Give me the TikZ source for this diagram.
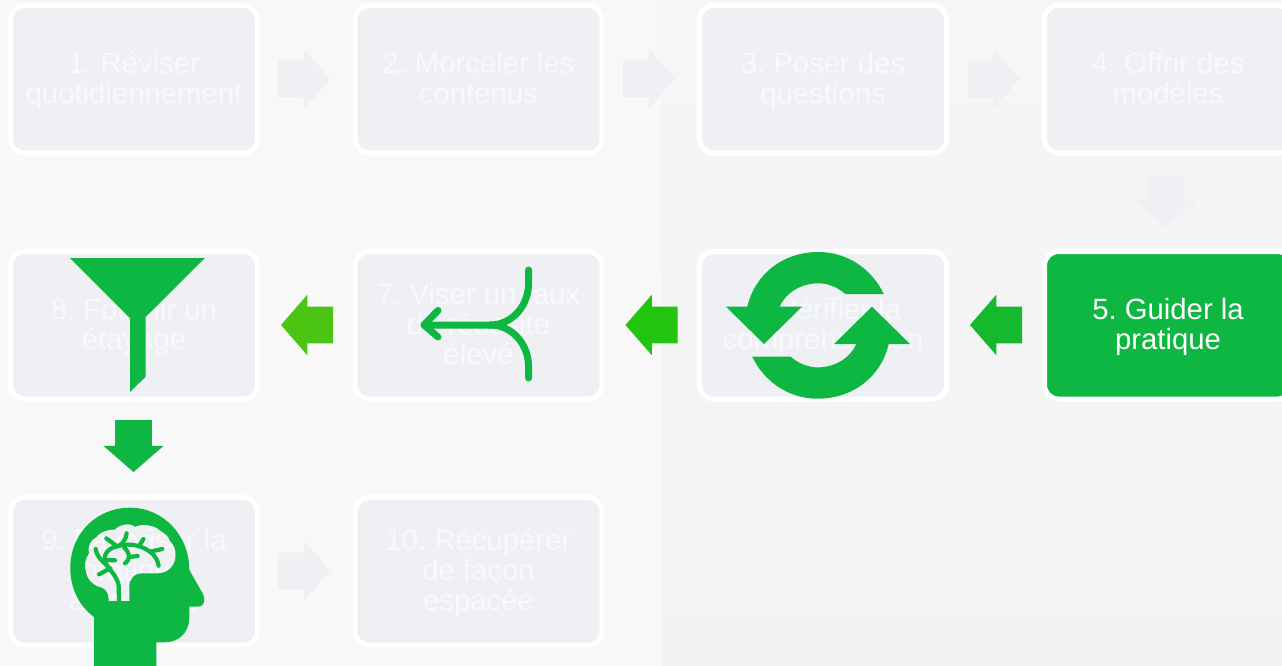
\documentclass[tikz,border=0pt]{standalone}
\usepackage{fontspec}
\setmainfont{Liberation Sans}
\usetikzlibrary{shapes.arrows}
\definecolor{boxfill}{HTML}{EEF0F4}
\definecolor{gr}{HTML}{0DB741}
\definecolor{arA}{HTML}{14B92E}
\definecolor{arB}{HTML}{22C40F}
\definecolor{arC}{HTML}{4CC414}
\definecolor{paletext}{HTML}{F8F9FB}
\definecolor{bgl}{HTML}{F8F8F8}
\newcommand{\tp}{\rule{0pt}{27pt}}
\newcommand{\bt}{\rule[-8.5pt]{0pt}{8.5pt}}
\tikzset{
  stepbox/.style={draw=white,line width=5pt,fill=boxfill,rounded corners=14pt,minimum width=247pt,minimum height=147.5pt,
    inner sep=0pt,outer sep=0pt,text=paletext,align=center,font=\fontsize{29.3}{30}\selectfont\frenchspacing,anchor=north west},
  blockarrow/.style={single arrow,draw=none,minimum height=52pt,single arrow head extend=11.8pt,text height=36.4pt,text depth=0pt,text width=0pt,
    single arrow tip angle=98,single arrow head indent=0pt,inner sep=0pt,outer sep=0pt,anchor=tail},
  icon/.style={fill=gr,draw=none},
  twig/.style={draw=gr,line width=4.2pt,line cap=round,line join=round}
}
\begin{document}
\begin{tikzpicture}[x=1pt,y=-1pt]
\useasboundingbox (0,0) rectangle (1282,666);
\fill[bgl] (0,0) rectangle (662,666);
\fill[top color=white!96.5!black,bottom color=white!95!black] (662,0) rectangle (1282,666);
% boxes
\node[stepbox] (b1) at (10.5,5.5) {\tp 1. Réviser\\quotidiennement\bt};
\node[stepbox] (b2) at (355,5.5) {\tp 2. Morceler les\\contenus\bt};
\node[stepbox] (b3) at (699.5,5.5) {\tp 3. Poser des\\questions\bt};
\node[stepbox] (b4) at (1044.5,5.5) {\tp 4. Offrir des\\modèles\bt};
\node[stepbox,fill=gr,text=white] (b5) at (1044.5,251.5) {\tp 5. Guider la\\pratique\bt};
\node[stepbox] (b6) at (699.5,251.5) {\tp 6. Vérifier la\\compréhension\bt};
\node[stepbox] (b7) at (355,251.5) {\tp 7. Viser un taux\\de réussite\\élevé\bt};
\node[stepbox] (b8) at (10.5,251.5) {\tp 8. Fournir un\\étayage\bt};
\node[stepbox] (b9) at (10.5,497.5) {\tp 9. Favoriser la\\pratique\\autonome\bt};
\node[stepbox] (b10) at (355,497.5) {\tp 10. Récupérer\\de façon\\espacée\bt};
% block arrows
\node[blockarrow,fill=boxfill] (a12) at (278,79) {};
\node[blockarrow,fill=boxfill] (a23) at (623,79) {};
\node[blockarrow,fill=boxfill] (a34) at (967.5,79) {};
\node[blockarrow,fill=boxfill,rotate=-90] (a45) at (1166.3,175) {};
\node[blockarrow,fill=arA,rotate=180] (a56) at (1022,325) {};
\node[blockarrow,fill=arB,rotate=180] (a67) at (677.5,325) {};
\node[blockarrow,fill=arC,rotate=180] (a78) at (333,325) {};
\node[blockarrow,fill=gr,rotate=-90] (a89) at (133.5,420) {};
\node[blockarrow,fill=boxfill] (a910) at (278,571) {};
% funnel
\fill[icon] (70,258) -- (205,258) -- (145.7,317) -- (145.7,376.7) -- (130,392) -- (130,318) -- cycle;
% merge icon
\draw[draw=gr,line width=7pt,line cap=round] (528.6,270) -- (528.6,283) .. controls (528.6,306) and (512,325) .. (490,325) -- (424,325);
\draw[draw=gr,line width=7pt,line cap=round] (528.6,378) -- (528.6,367) .. controls (528.6,344) and (512,325) .. (490,325);
\draw[draw=gr,line width=7pt,line cap=round,line join=round] (438,310.5) -- (424,325) -- (438,337);
% cycle icon
\fill[icon] (726,306.7) -- (764,344) -- (802,306.7) -- (779.7,306.7)
  .. controls (786,292) and (802,283.3) .. (818.5,283.3) .. controls (828,283.3) and (838,287.5) .. (845.3,294)
  -- (883.7,294) .. controls (872,269) and (847,252) .. (818.5,252) .. controls (783,252) and (755,274) .. (747.3,306.7) -- cycle;
\fill[icon,rotate around={180:(818,325.35)}] (726,306.7) -- (764,344) -- (802,306.7) -- (779.7,306.7)
  .. controls (786,292) and (802,283.3) .. (818.5,283.3) .. controls (828,283.3) and (838,287.5) .. (845.3,294)
  -- (883.7,294) .. controls (872,269) and (847,252) .. (818.5,252) .. controls (783,252) and (755,274) .. (747.3,306.7) -- cycle;
% head with brain cut out
\fill[icon,even odd rule] (94,667) -- (94,617) .. controls (79,606) and (70.3,588) .. (70.3,568)
  .. controls (70.3,533) and (97,507.7) .. (130,507.7) .. controls (163,507.7) and (189.3,535) .. (189.3,570)
  -- (203,594) .. controls (206,600) and (204,606.7) .. (198,606.7) -- (189.3,606.7) -- (189.3,618)
  .. controls (189.3,632) and (179,642.3) .. (165,642.3) -- (156.3,642.3) -- (156.3,667) -- cycle
  (108.7,601) .. controls (108.7,594) and (107,590) .. (101.7,587.7) .. controls (94,586) and (87,580) .. (86,572)
  .. controls (84,566) and (85,558) .. (89,553.3) .. controls (87,546) and (91,539) .. (96.7,537)
  .. controls (98,533) and (108,529) .. (115,529.5) .. controls (118,525) and (130,522) .. (135,526.7)
  .. controls (142,523.5) and (155,525) .. (160,530.5) .. controls (165,533) and (169,537) .. (170,541)
  .. controls (174,545) and (176,550) .. (175.5,555) .. controls (176,565) and (168,573.3) .. (158.3,573.3)
  -- (143,573.3) .. controls (134,573.3) and (129.3,579) .. (129.3,587) -- (129.3,601) -- cycle;
\begin{scope}[shift={(75,515)},x=.33333pt,y=-.33333pt]
\draw[twig] (132,262) -- (131,212) .. controls (128,190) and (110,170) .. (95,150) .. controls (80,125) and (95,100) .. (125,95)
  .. controls (150,85) and (190,85) .. (225,110) .. controls (240,122) and (248,135) .. (251,152);
\draw[twig] (106,160) -- (72,178);
\draw[twig] (62,102) .. controls (66,125) and (78,135) .. (95,150);
\draw[twig] (92,135) -- (120,136);
\draw[twig] (94,70) -- (125,93);
\draw[twig] (155,55) .. controls (153,72) and (145,85) .. (130,93);
\draw[twig] (225,110) -- (262,102);
\draw[twig] (205,72) -- (194,91);
\draw[twig] (148,98) .. controls (165,115) and (168,130) .. (150,145);
\draw[twig] (163,126) -- (188,123);
\end{scope}
\end{tikzpicture}
\end{document}
